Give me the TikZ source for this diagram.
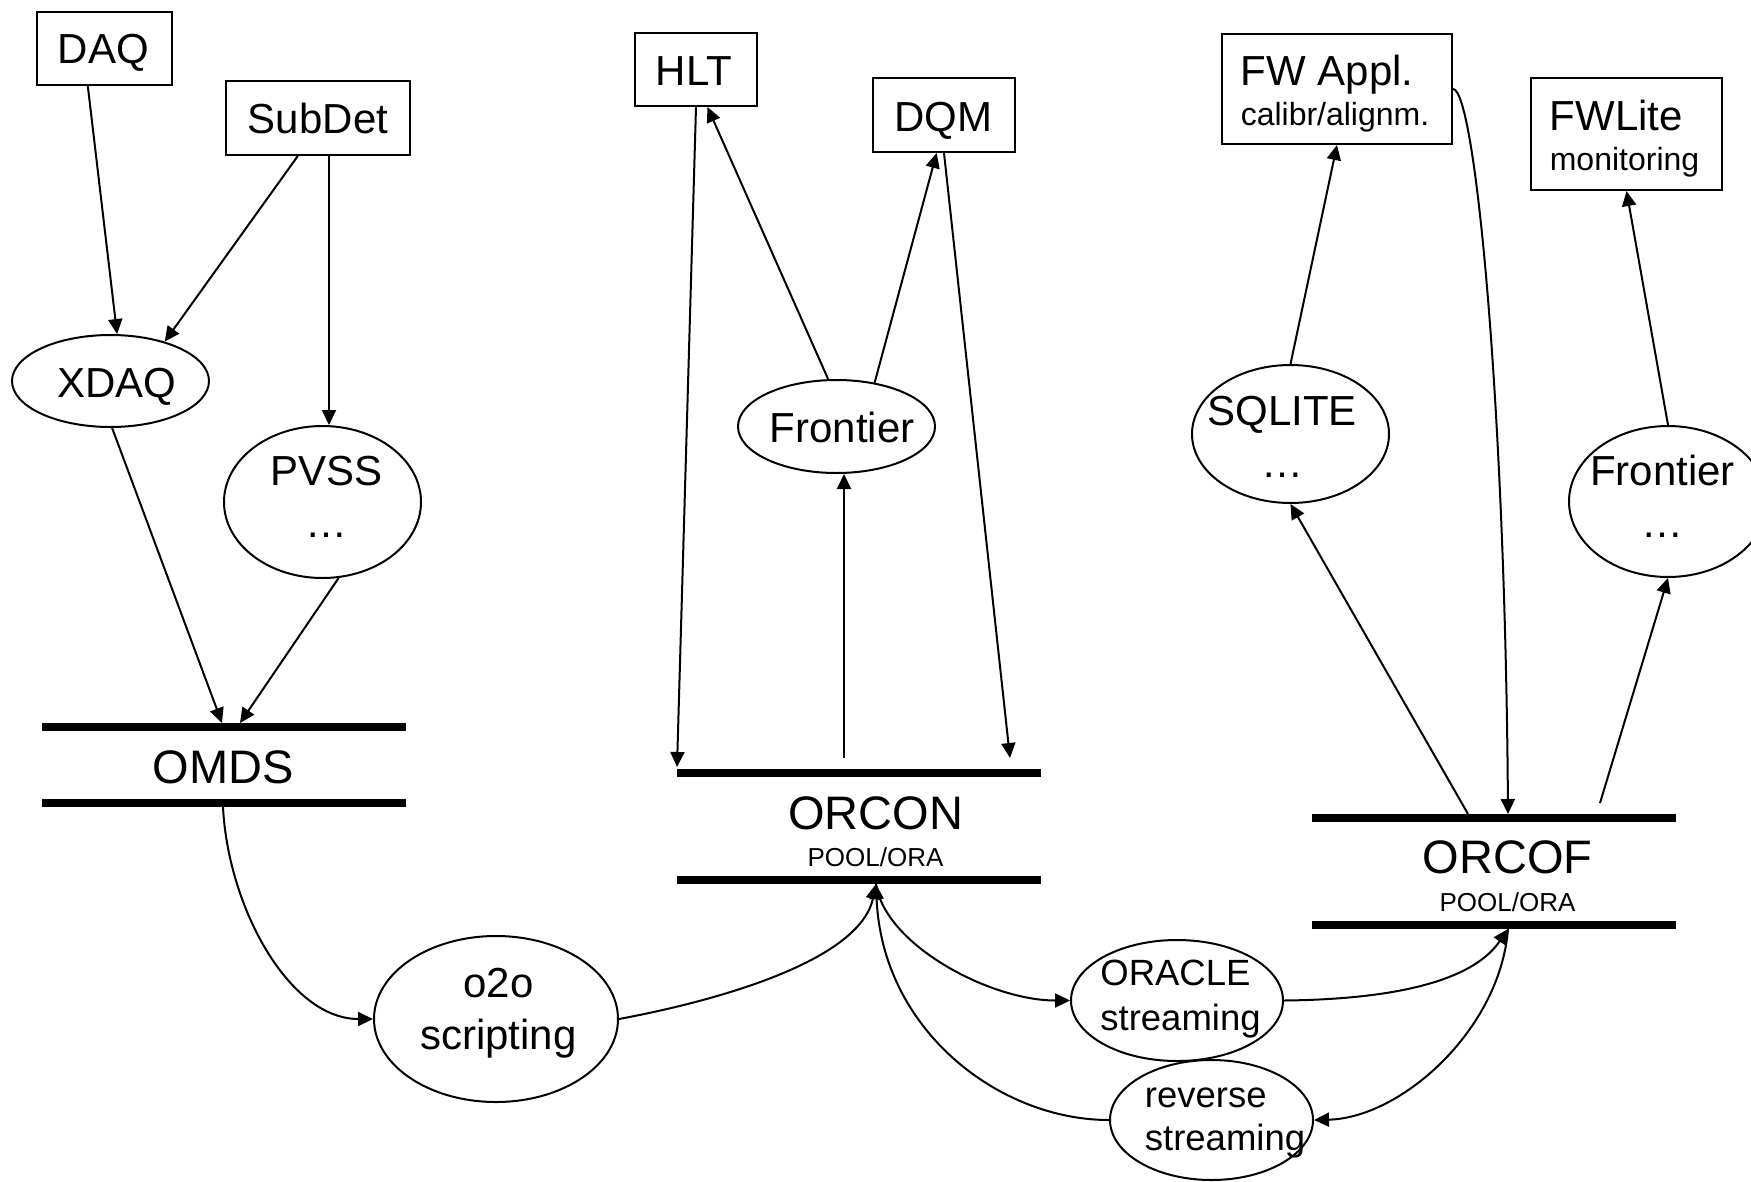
\documentclass[tikz,border=0pt]{standalone}
\usepackage{fontspec}
\setmainfont{Liberation Sans}
\usetikzlibrary{arrows.meta,shapes.geometric}
% text placer: #1 raise of first baseline above node centre, #2 horizontal shift, #3 column type, #4 rows
\newcommand\tb[4]{\raisebox{#1}[0pt][0pt]{\makebox[0pt][c]{\kern#2\kern#2\begin{tabular}[t]{@{}#3@{}}#4\end{tabular}}}}
\newcommand\fS{\fontsize{32}{40}\selectfont}
\newcommand\fP{\fontsize{26}{37}\selectfont}
\tikzset{
  box/.style={draw, line width=2pt, rectangle, inner sep=0pt},
  ell/.style={draw, line width=2pt, ellipse, inner sep=0pt},
  lbl/.style={inner sep=0pt},
  arr/.style={line width=2pt, -{Triangle[length=15pt,width=14pt]}},
  bar/.style={line width=7.5pt},
  fM/.style={font=\fontsize{42}{52}\selectfont},
}
\begin{document}
\begin{tikzpicture}[x=1pt,y=-1pt]
\useasboundingbox (0,0) rectangle (1751,1181);
\fill[white] (0,0) rectangle (1751,1181);
\clip (0,0) rectangle (1751,1181);

% boxes
\node[box,fM,minimum width=135pt,minimum height=73pt] (daq) at (104.5,48.5) {\tb{-14.5pt}{-1pt}{c}{DAQ}};
\node[box,fM,minimum width=184pt,minimum height=74pt] (subdet) at (318,118) {\tb{-15pt}{0pt}{c}{SubDet}};
\node[box,fM,minimum width=122pt,minimum height=73pt] (hlt) at (696,69.5) {\tb{-15.5pt}{-2pt}{c}{HLT}};
\node[box,fM,minimum width=142pt,minimum height=74pt] (dqm) at (944,115) {\tb{-16pt}{-1pt}{c}{DQM}};
\node[box,font=\fontsize{42}{40}\selectfont,minimum width=230pt,minimum height=110pt] (fwappl) at (1337,89) {\tb{4pt}{-2pt}{l}{FW Appl.\\\fS calibr/alignm.}};
\node[box,font=\fontsize{42}{40}\selectfont,minimum width=191pt,minimum height=112pt] (fwlite) at (1626.5,134) {\tb{4pt}{-2pt}{l}{FWLite\\\fS monitoring}};

% ellipses
\node[ell,fM,minimum width=197pt,minimum height=92pt] (xdaq) at (110.5,381) {\tb{-16pt}{6.5pt}{c}{XDAQ}};
\node[ell,fM,minimum width=197pt,minimum height=152pt] (pvss) at (322.5,502) {\tb{17pt}{4pt}{c}{PVSS\\…}};
\node[ell,fM,minimum width=197pt,minimum height=93pt] (frontier) at (836.5,426.5) {\tb{-15.5pt}{5.5pt}{c}{Frontier}};
\node[ell,fM,minimum width=197pt,minimum height=138pt] (sqlite) at (1290.5,434) {\tb{9pt}{-8.5pt}{c}{SQLITE\\…}};
\node[ell,fM,minimum width=198pt,minimum height=151pt] (frontierR) at (1668,501.5) {\tb{16.5pt}{-5.5pt}{c}{Frontier\\…}};
\node[ell,fM,minimum width=244pt,minimum height=166pt] (o2o) at (496,1019) {\tb{22pt}{2.5pt}{c}{o2o\\scripting}};
\node[ell,font=\fontsize{36.5}{45}\selectfont,minimum width=212pt,minimum height=121pt] (oracle) at (1177,1000.5) {\tb{15.5pt}{3.5pt}{l}{ORACLE\\streaming}};
\node[ell,font=\fontsize{36.5}{43}\selectfont,minimum width=203pt,minimum height=120pt] (reverse) at (1211.5,1120) {\tb{13pt}{13.5pt}{l}{reverse\\streaming}};

% data stores
\node[lbl,font=\fontsize{47}{56}\selectfont] (omds) at (223,767) {\tb{-16pt}{0pt}{c}{OMDS}};
\node[lbl,font=\fontsize{47}{37}\selectfont] (orcon) at (875.5,830) {\tb{1pt}{0pt}{c}{ORCON\\\fP POOL/ORA}};
\node[lbl,font=\fontsize{47}{38}\selectfont] (orcof) at (1507.5,876) {\tb{3pt}{0pt}{c}{ORCOF\\\fP POOL/ORA}};

\coordinate (omdsTL) at (42,727);   \coordinate (omdsTR) at (406,727);
\coordinate (omdsBL) at (42,803);   \coordinate (omdsBR) at (406,803);
\coordinate (orconTL) at (677,773); \coordinate (orconTR) at (1041,773);
\coordinate (orconBL) at (677,880); \coordinate (orconBR) at (1041,880);
\coordinate (orcofTL) at (1312,818); \coordinate (orcofTR) at (1676,818);
\coordinate (orcofBL) at (1312,925); \coordinate (orcofBR) at (1676,925);
\draw[bar] (omdsTL) -- (omdsTR);
\draw[bar] (omdsBL) -- (omdsBR);
\draw[bar] (orconTL) -- (orconTR);
\draw[bar] (orconBL) -- (orconBR);
\draw[bar] (orcofTL) -- (orcofTR);
\draw[bar] (orcofBL) -- (orcofBR);

% attachment points on the stores
\coordinate (omdsInA) at (222,723);
\coordinate (omdsInB) at (240,723);
\coordinate (omdsOut) at (223,807);
\coordinate (orconL) at (677,767);
\coordinate (orconR) at (1010,758);
\coordinate (orconF) at (844,758);
\coordinate (orconB) at (876,884);
\coordinate (orcofT) at (1508,814);
\coordinate (orcofL) at (1468,814);
\coordinate (orcofR) at (1600,803);
\coordinate (orcofB) at (1508,929);

% connectors
\draw[arr] (daq.-114) -- (xdaq.82);
\draw[arr] (subdet.-118) -- (xdaq.36);
\draw[arr] ([xshift=11pt]subdet.south) -- ([xshift=6.5pt]pvss.north);
\draw[arr] (xdaq.-88) -- (omdsInA);
\draw[arr] (pvss.-78) -- (omdsInB);
\draw[arr] (omdsOut) .. controls +(5,100) and +(-84,0) .. (o2o.west);
\draw[arr] (o2o.east) .. controls +(102,-19) and +(-16,76) .. (orconB);
\draw[arr] (orconB) .. controls +(9,61) and +(-80,0) .. (oracle.west);
\draw[arr] (reverse.west) .. controls +(-110,0) and +(6,146) .. (orconB);
\draw[arr] (oracle.east) .. controls +(97,-1) and +(-38,56) .. (orcofB);
\draw[arr] (orcofB) .. controls +(-8,101) and +(87,-2) .. (reverse.east);
\draw[arr] (orconF) -- (orconF |- frontier.south);
\draw[arr] (frontier.100) -- (hlt.-73);
\draw[arr] (frontier.49) -- (dqm.-101);
\draw[arr] (hlt.south) -- (orconL);
\draw[arr] (dqm.south) -- (orconR);
\draw[arr] (sqlite.north) -- (fwappl.south);
\draw[arr] (fwappl.east) .. controls +(22,0) and +(-3,-414) .. (orcofT);
\draw[arr] (orcofL) -- (sqlite.south);
\draw[arr] (orcofR) -- (frontierR.south);
\draw[arr] (frontierR.north) -- (fwlite.south);
\end{tikzpicture}
\end{document}
